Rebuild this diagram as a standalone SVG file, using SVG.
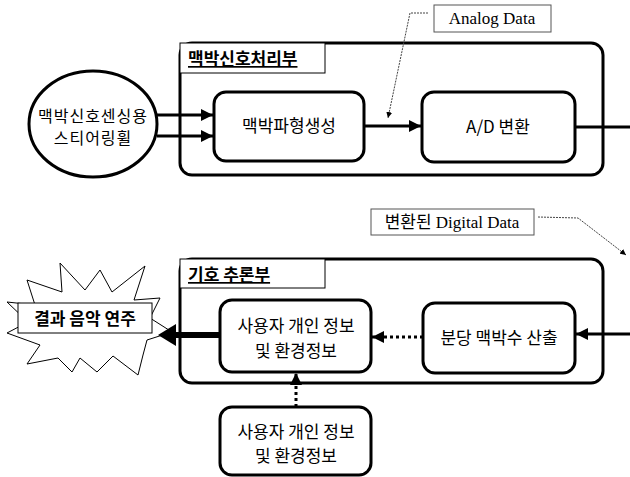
<svg xmlns="http://www.w3.org/2000/svg" width="630" height="477" viewBox="0 0 630 477">
<defs>
<style>
.k{font-family:"Noto Sans CJK KR","Noto Sans",sans-serif;font-size:17px;fill:#000;text-anchor:middle}
.t{font-family:"Noto Sans CJK KR","Noto Sans",sans-serif;font-size:17px;font-weight:bold;fill:#000;text-decoration:underline}
.s{font-family:"Liberation Serif","Noto Sans CJK KR",serif;font-size:17px;fill:#000;text-anchor:middle}
.box{fill:#fff;stroke:#000;stroke-width:3}
.thin{fill:#fff;stroke:#555;stroke-width:1}
.ln{fill:none;stroke:#000;stroke-width:3}
.dot{fill:none;stroke:#000;stroke-width:3;stroke-dasharray:3 3}
.lead{fill:none;stroke:#444;stroke-width:1;stroke-dasharray:2 1}
</style>
<marker id="ah" viewBox="0 0 10 10" refX="10" refY="5" markerWidth="4" markerHeight="4" orient="auto" markerUnits="strokeWidth"><path d="M0,0L10,5L0,10z" fill="#000"/></marker>
<marker id="sm" viewBox="0 0 10 10" refX="10" refY="5" markerWidth="6" markerHeight="6" orient="auto" markerUnits="userSpaceOnUse"><path d="M0,0L10,5L0,10z" fill="#000"/></marker>
</defs>
<g id="top-container">
<rect class="box" x="180" y="43" width="423" height="132" rx="12"/>
<rect x="180" y="43" width="145" height="30" fill="#fff" stroke="#000" stroke-width="1"/>
<text class="t" x="188" y="65">맥박신호처리부</text>
</g>
<g id="bottom-container">
<rect class="box" x="180" y="259" width="423" height="124" rx="12"/>
<rect x="180" y="259" width="145" height="29" fill="#fff" stroke="#000" stroke-width="1"/>
<text class="t" x="188" y="281">기호 추론부</text>
</g>
<g id="sensor">
<ellipse cx="93" cy="124" rx="64" ry="53" fill="#fff" stroke="#000" stroke-width="3"/>
<text class="k" x="93" y="122" style="font-size:16px;letter-spacing:1px">맥박신호센싱용</text>
<text class="k" x="93" y="144" style="font-size:16px;letter-spacing:1px">스티어링휠</text>
</g>
<g id="waveform">
<rect class="box" x="214" y="92" width="150" height="69" rx="12"/>
<text class="k" x="289" y="132">맥박파형생성</text>
</g>
<g id="adconv">
<rect class="box" x="422" y="92" width="153" height="70" rx="12"/>
<text class="k" x="498" y="133">A/D 변환</text>
</g>
<g id="analog-label">
<rect class="thin" x="434" y="5" width="117" height="27"/>
<text class="s" x="492" y="24">Analog Data</text>
</g>
<g id="digital-label">
<rect class="thin" x="371" y="209" width="163" height="26"/>
<text class="s" x="452" y="228">변환된 Digital Data</text>
</g>
<g id="bpm">
<rect class="box" x="423" y="303" width="152" height="70" rx="12"/>
<text class="k" x="499" y="344">분당 맥박수 산출</text>
</g>
<g id="user-info-inner">
<rect class="box" x="220" y="300" width="151" height="72" rx="12"/>
<text class="k" x="296" y="332">사용자 개인 정보</text>
<text class="k" x="296" y="357">및 환경정보</text>
</g>
<g id="user-info-outer">
<rect class="box" x="220" y="407" width="151" height="68" rx="12"/>
<text class="k" x="296" y="438">사용자 개인 정보</text>
<text class="k" x="296" y="462">및 환경정보</text>
</g>
<g id="result">
<polygon points="27,280 62,292 60,263 85,290 100,270 112,292 145,266 134,300 160,298 150,318 172,332 147,340 143,355 138,375 113,356 97,372 80,358 72,372 58,358 27,364 40,345 7,333 28,322 7,302 35,305" fill="#fff" stroke="#000" stroke-width="1"/>
<rect x="18" y="303" width="134" height="30" fill="#fff" stroke="#000" stroke-width="1"/>
<text class="k" x="85" y="325" style="font-weight:bold">결과 음악 연주</text>
</g>
<g id="connectors">
<line class="ln" x1="157" y1="115" x2="213" y2="115" marker-end="url(#ah)"/>
<line class="ln" x1="157" y1="136" x2="213" y2="136" marker-end="url(#ah)"/>
<line class="ln" x1="364" y1="126" x2="421" y2="126" marker-end="url(#ah)"/>
<line class="ln" x1="575" y1="127" x2="630" y2="127"/>
<line class="ln" x1="630" y1="334" x2="576" y2="334" marker-end="url(#ah)"/>
<line class="dot" x1="423" y1="337" x2="372" y2="337" marker-end="url(#ah)"/>
<line class="dot" x1="296" y1="407" x2="296" y2="373" marker-end="url(#ah)"/>
<line x1="220" y1="335" x2="175" y2="335" stroke="#000" stroke-width="6"/>
<polygon points="158,335 176,324 176,346" fill="#000"/>
<polyline class="lead" points="428,13 410,13 388,118" marker-end="url(#sm)"/>
<polyline class="lead" points="538,217 578,218 626,255" marker-end="url(#sm)"/>
</g>
</svg>
